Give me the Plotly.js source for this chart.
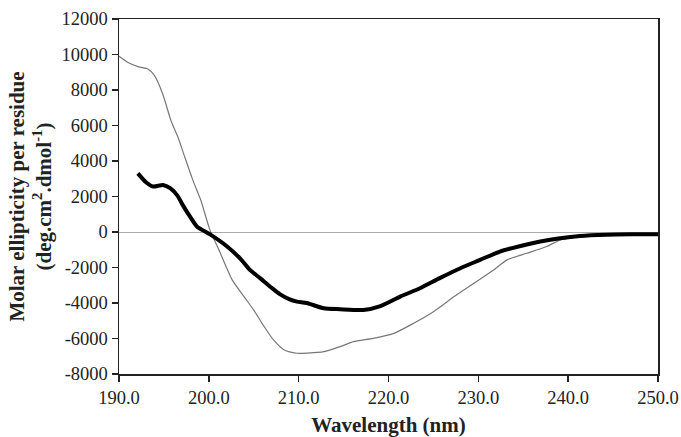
<!DOCTYPE html>
<html>
<head>
<meta charset="utf-8">
<script src="https://cdn.plot.ly/plotly-3.0.1.min.js"></script>
<style>html,body{margin:0;padding:0;background:#fff;}#chart{width:681px;height:437px;}</style>
</head>
<body>
<div id="chart"></div>
<script>
// Thin grey curve
const wavelengthA = [190.0,191.0,192.2,193.2,193.9,194.85,195.8,196.6,197.3,198.2,199.1,200.1,201.2,202.6,204.0,205.0,206.0,207.2,208.4,209.8,211.0,212.8,214.6,216.1,218.3,220.6,222.8,225.0,227.3,229.5,231.7,233.2,235.4,237.6,239.1,240.6,242.5,245.0,247.0,250.0];
const ellipticityA = [9900,9550,9300,9180,8850,7800,6250,5300,4250,2950,1800,150,-1100,-2700,-3700,-4400,-5200,-6080,-6650,-6830,-6820,-6740,-6460,-6180,-5990,-5710,-5140,-4490,-3640,-2890,-2140,-1570,-1200,-820,-450,-300,-200,-120,-100,-120];
// Thick black curve
const wavelengthB = [192.1,193.0,193.8,194.9,195.7,196.5,197.2,198.0,198.7,200.1,202.0,203.5,204.6,205.7,207.0,207.9,209.0,209.8,210.9,212.8,214.6,217.2,219.1,221.3,223.5,225.7,228.0,230.2,232.4,234.7,236.9,239.1,241.3,244.3,247.0,250.0];
const ellipticityB = [3300,2800,2560,2650,2470,2050,1430,800,300,-120,-800,-1500,-2150,-2600,-3150,-3500,-3800,-3920,-4000,-4300,-4350,-4390,-4170,-3640,-3170,-2600,-2040,-1570,-1100,-790,-540,-350,-220,-150,-130,-130];
const xTicks = [190,200,210,220,230,240,250];
const xTickText = ["190.0","200.0","210.0","220.0","230.0","240.0","250.0"];
const yTicks = [-8000,-6000,-4000,-2000,0,2000,4000,6000,8000,10000,12000];
const yTickText = ["-8000","-6000","-4000","-2000","0","2000","4000","6000","8000","10000","12000"];

const serif = "Liberation Serif";
const traces = [
  {x: wavelengthA, y: ellipticityA, mode: "lines", line: {color: "#777", width: 1.2, shape: "spline", smoothing: 0.6}, hoverinfo: "skip"},
  {x: wavelengthB, y: ellipticityB, mode: "lines", line: {color: "#000", width: 4, shape: "spline", smoothing: 0.6}, hoverinfo: "skip"}
];
const layout = {
  width: 681, height: 437,
  margin: {l: 119, r: 23, t: 19, b: 63},
  showlegend: false,
  paper_bgcolor: "#fff", plot_bgcolor: "#fff",
  font: {family: serif, color: "#222", size: 18.5},
  xaxis: {
    range: [190, 250], tickvals: xTicks, ticktext: xTickText,
    showgrid: false, zeroline: false,
    showline: true, linecolor: "#222", linewidth: 1.5, mirror: true,
    ticks: "outside", ticklen: 6, tickwidth: 1.5, tickcolor: "#222",
    tickfont: {family: serif, size: 18.5, color: "#222"},
    title: {text: "<b>Wavelength (nm)</b>", font: {family: serif, size: 21, color: "#222"}, standoff: 13}
  },
  yaxis: {
    range: [-8000, 12000], tickvals: yTicks, ticktext: yTickText,
    showgrid: false, zeroline: true, zerolinecolor: "#aaa", zerolinewidth: 1,
    showline: true, linecolor: "#222", linewidth: 1.5, mirror: true,
    ticks: "outside", ticklen: 6, tickwidth: 1.5, tickcolor: "#222",
    tickfont: {family: serif, size: 18.5, color: "#222"},
    title: {text: "<b>Molar ellipticity per residue<br>(deg.cm<sup>2</sup>.dmol<sup>-1</sup>)</b>", font: {family: serif, size: 21, color: "#222"}, standoff: 4}
  }
};
Plotly.newPlot("chart", traces, layout, {displayModeBar: false, staticPlot: true});
</script>
</body>
</html>
